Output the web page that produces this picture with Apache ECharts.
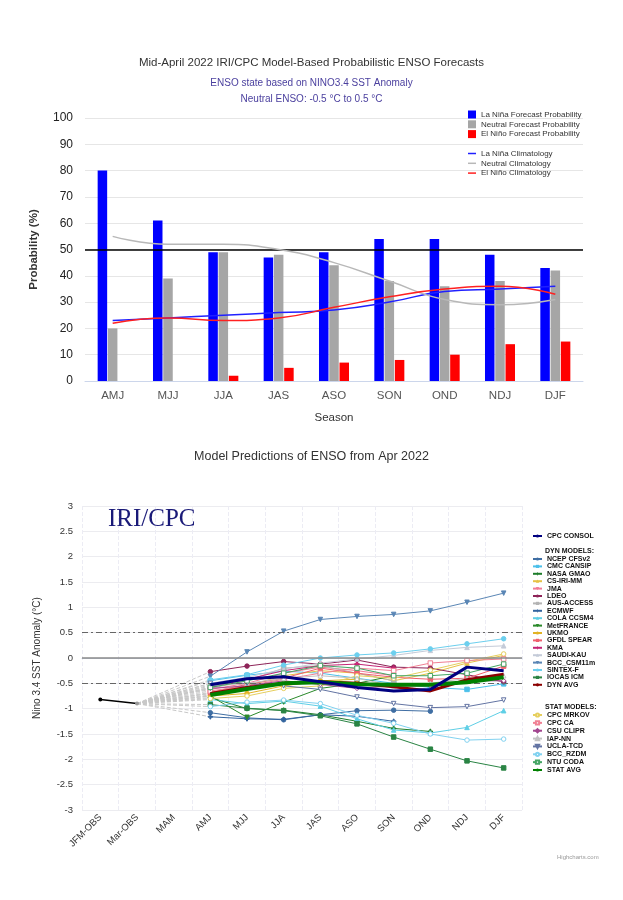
<!DOCTYPE html>
<html><head><meta charset="utf-8">
<script src="https://cdn.jsdelivr.net/npm/echarts/dist/echarts.min.js"></script>
<style>html,body{margin:0;padding:0;background:#fff}#c{width:623px;height:900px}</style>
</head><body><div id="c"></div>
<script>
// ---------- top chart data ----------
const seasons = ['AMJ','MJJ','JJA','JAS','ASO','SON','OND','NDJ','DJF'];
const laNinaProb  = [80,61,49,47,49,54,54,48,43];
const neutralProb = [20,39,49,48,44,38,36,38,42];
const elNinoProb  = [0,0,2,5,7,8,10,14,15];
const laNinaClim  = [23,24,25,26,27,30,34,35,36];
const neutralClim = [55,52,52,50,45,38,31,29,31];
const elNinoClim  = [22,24,23,24,28,32,35,36,33];

// ---------- bottom chart data ----------
const plumeCats = ['JFM-OBS','Mar-OBS','MAM','AMJ','MJJ','JJA','JAS','ASO','SON','OND','NDJ','DJF'];
const obsValues = [-0.82,-0.90];
const cpcConsol = [-0.53,-0.41,-0.37,-0.47,-0.58,-0.65,-0.62,-0.18,-0.25];
const ncepCfsv2 = [-1.08,-1.18,-1.22,-1.12,-1.04,-1.03,-1.05,null,null];
const cmcCansip = [-0.45,-0.34,-0.26,-0.30,-0.40,-0.50,-0.58,-0.62,-0.51];
const nasaGmao  = [-0.78,-1.00,-1.03,-1.12,-1.25,-1.39,-1.45,null,null];
const csIriMm   = [-0.70,-0.55,-0.35,-0.25,-0.30,-0.45,-0.30,-0.10,0.05];
const jma       = [-0.62,-0.50,-0.30,-0.18,-0.25,-0.35,null,null,null];
const ldeo      = [-0.27,-0.16,-0.07,-0.12,-0.04,-0.18,-0.20,-0.33,-0.47];
const ausAccess = [-0.60,-0.45,-0.20,-0.15,-0.30,-0.45,null,null,null];
const ecmwf     = [-1.16,-1.20,-1.21,-1.12,-1.15,-1.25,null,null,null];
const colaCcsm4 = [-0.82,-0.90,-0.85,-0.95,-1.20,-1.42,-1.48,-1.37,-1.04];
const metFrance = [-0.75,-1.17,-0.87,-0.60,-0.50,-0.35,null,null,null];
const ukmo      = [-0.75,-0.70,-0.55,-0.45,-0.42,null,null,null,null];
const gfdlSpear = [-0.68,-0.52,-0.40,-0.20,-0.30,-0.38,-0.42,-0.40,-0.16];
const kma       = [-0.58,-0.42,-0.25,-0.15,-0.12,-0.20,null,null,null];
const saudiKau  = [-0.50,-0.38,-0.22,-0.10,-0.02,0.05,0.15,0.21,0.24];
const bccCsm11m = [-0.36,0.12,0.53,0.76,0.82,0.86,0.93,1.10,1.28];
const sintexF   = [-0.43,-0.33,-0.14,0.00,0.06,0.10,0.18,0.28,0.38];
const iocasIcm  = [-0.92,-0.99,-1.04,-1.14,-1.30,-1.56,-1.80,-2.03,-2.17];
const dynAvg    = [-0.70,-0.58,-0.50,-0.47,-0.50,-0.57,-0.65,-0.43,-0.32];
const cpcMrkov  = [-0.80,-0.75,-0.60,-0.55,-0.35,-0.40,-0.24,-0.07,0.08];
const cpcCa     = [-0.65,-0.55,-0.42,-0.30,-0.20,-0.25,-0.10,-0.05,-0.02];
const csuClipr  = [-0.60,-0.55,-0.45,-0.52,-0.60,-0.55,-0.55,-0.45,-0.45];
const iapNn     = [-0.55,-0.50,-0.40,-0.35,-0.40,-0.55,-0.50,-0.40,-0.35];
const uclaTcd   = [-0.50,-0.50,-0.55,-0.62,-0.77,-0.90,-0.98,-0.96,-0.83];
const bccRzdm   = [-0.96,-0.87,-0.83,-0.90,-1.13,-1.29,-1.50,-1.62,-1.60];
const ntuCoda   = [-0.58,-0.45,-0.30,-0.15,-0.20,-0.35,-0.35,-0.30,-0.12];
const statAvg   = [-0.73,-0.61,-0.50,-0.48,-0.52,-0.53,-0.53,-0.48,-0.38];

// ---------- styling (kept apart from data) ----------
const DOWN = 'path://M0,0L10,0L5,10Z';
const PLUS = 'path://M4,0H6V4H10V6H6V10H4V6H0V4H4Z';
const dynModels = [
  ['NCEP CFSv2', ncepCfsv2, '#3f6ea3', 'circle', false],
  ['CMC CANSIP', cmcCansip, '#4cc0ea', 'rect', false],
  ['NASA GMAO', nasaGmao, '#1d7d2a', PLUS, false],
  ['CS-IRI-MM', csIriMm, '#e6c245', 'triangle', false],
  ['JMA', jma, '#f27c98', DOWN, false],
  ['LDEO', ldeo, '#8e2458', 'circle', false],
  ['AUS-ACCESS', ausAccess, '#b4b4b4', 'rect', false],
  ['ECMWF', ecmwf, '#33649f', PLUS, false],
  ['COLA CCSM4', colaCcsm4, '#5fcfe6', 'triangle', false],
  ['MetFRANCE', metFrance, '#2b8a2b', DOWN, false],
  ['UKMO', ukmo, '#e2b325', 'circle', false],
  ['GFDL SPEAR', gfdlSpear, '#f0606e', 'rect', false],
  ['KMA', kma, '#c42474', PLUS, false],
  ['SAUDI-KAU', saudiKau, '#c4cbd8', 'triangle', false],
  ['BCC_CSM11m', bccCsm11m, '#5a86b5', DOWN, false],
  ['SINTEX-F', sintexF, '#6ccfee', 'circle', false],
  ['IOCAS ICM', iocasIcm, '#2a8444', 'rect', false]
];
const statModels = [
  ['CPC MRKOV', cpcMrkov, '#e6cf5e', 'circle', true],
  ['CPC CA', cpcCa, '#f08194', 'rect', true],
  ['CSU CLIPR', csuClipr, '#a2468f', 'diamond', true],
  ['IAP-NN', iapNn, '#c2c2c2', 'triangle', true],
  ['UCLA-TCD', uclaTcd, '#6374a3', DOWN, true],
  ['BCC_RZDM', bccRzdm, '#82d2f0', 'circle', true],
  ['NTU CODA', ntuCoda, '#45a564', 'rect', true]
];

const chart = echarts.init(document.getElementById('c'), null, {renderer:'canvas'});
const FONT = 'Liberation Sans';
const pad = arr => [null, null, null].concat(arr);

const series = [];
// top bars
const barCommon = {type:'bar', xAxisIndex:0, yAxisIndex:0, barWidth:9.5, barGap:'8%'};
series.push(Object.assign({}, barCommon, {name:'La Niña Forecast Probability', data:laNinaProb, itemStyle:{color:'#0000ff'},
  markLine:{silent:true, symbol:'none', label:{show:false}, lineStyle:{color:'#000', width:1.5, type:'solid'}, data:[{yAxis:50}]}}));
series.push(Object.assign({}, barCommon, {name:'Neutral Forecast Probability', data:neutralProb, itemStyle:{color:'#a6a6a6'}}));
series.push(Object.assign({}, barCommon, {name:'El Niño Forecast Probability', data:elNinoProb, itemStyle:{color:'#ff0000'}}));
const climCommon = {type:'line', xAxisIndex:0, yAxisIndex:0, smooth:true, symbol:'none', z:5};
series.push(Object.assign({}, climCommon, {name:'La Niña Climatology', data:laNinaClim, itemStyle:{color:'#2020ff'}, lineStyle:{color:'#2020ff', width:1.5}}));
series.push(Object.assign({}, climCommon, {name:'Neutral Climatology', data:neutralClim, itemStyle:{color:'#b8b8b8'}, lineStyle:{color:'#b8b8b8', width:1.5}}));
series.push(Object.assign({}, climCommon, {name:'El Niño Climatology', data:elNinoClim, itemStyle:{color:'#ff2020'}, lineStyle:{color:'#ff2020', width:1.5}}));

// bottom: observations + reference lines
series.push({type:'line', xAxisIndex:1, yAxisIndex:1, name:'OBS', z:6,
  data:[{value:obsValues[0], itemStyle:{color:'#000'}}, {value:obsValues[1], itemStyle:{color:'#999'}}],
  symbol:'circle', symbolSize:4, lineStyle:{color:'#000', width:1.5}, itemStyle:{color:'#000'},
  markLine:{silent:true, symbol:'none', label:{show:false}, data:[
    {yAxis:0, lineStyle:{color:'#8a8a8a', width:1.5, type:'solid'}},
    {yAxis:0.5, lineStyle:{color:'#666', width:1, type:[6,3,2,3]}},
    {yAxis:-0.5, lineStyle:{color:'#666', width:1, type:[6,3,2,3]}}
  ]}});

const allModels = [['CPC CONSOL', cpcConsol], ...dynModels, ['DYN AVG', dynAvg], ...statModels, ['STAT AVG', statAvg]];
// dashed connectors from last observation to first forecast
allModels.forEach(m => {
  const d = new Array(plumeCats.length).fill(null);
  d[1] = obsValues[1]; d[3] = m[1][0];
  series.push({type:'line', xAxisIndex:1, yAxisIndex:1, silent:true, connectNulls:true, symbol:'none', z:1,
    data:d, lineStyle:{color:'#c8c8c8', width:1, type:[4,2]}});
});
function modelSeries(m, z){
  const [name, vals, color, sym, hollow] = m;
  return {type:'line', name, xAxisIndex:1, yAxisIndex:1, data:pad(vals), z:z||3,
    symbol:sym, symbolSize:4.5, showAllSymbol:true,
    lineStyle:{color, width:1},
    itemStyle: hollow ? {color:'#fff', borderColor:color, borderWidth:1} : {color, borderColor:color}};
}
dynModels.forEach(m => series.push(modelSeries(m)));
statModels.forEach(m => series.push(modelSeries(m)));
series.push({type:'line', name:'CPC CONSOL', xAxisIndex:1, yAxisIndex:1, data:pad(cpcConsol), symbol:'none', z:9, lineStyle:{color:'#000080', width:3}, itemStyle:{color:'#000080'}});
series.push({type:'line', name:'DYN AVG', xAxisIndex:1, yAxisIndex:1, data:pad(dynAvg), symbol:'none', z:8, lineStyle:{color:'#8b0000', width:3}, itemStyle:{color:'#8b0000'}});
series.push({type:'line', name:'STAT AVG', xAxisIndex:1, yAxisIndex:1, data:pad(statAvg), symbol:'none', z:8, lineStyle:{color:'#008000', width:4}, itemStyle:{color:'#008000'}});

const legTxt = {fontSize:7, fontWeight:'bold', color:'#111', fontFamily:FONT, lineHeight:7};
const option = {
  animation:false,
  backgroundColor:'#fff',
  textStyle:{fontFamily:FONT},
  title:[
    {text:'Mid-April 2022 IRI/CPC Model-Based Probabilistic ENSO Forecasts', left:'center', top:57, padding:0,
     textStyle:{fontSize:11.5, fontWeight:'normal', color:'#333', fontFamily:FONT}},
    {text:'ENSO state based on NINO3.4 SST Anomaly', left:'center', top:78, padding:0,
     textStyle:{fontSize:10, fontWeight:'normal', color:'#4a3f9e', fontFamily:FONT}},
    {text:'Neutral ENSO: -0.5 °C to 0.5 °C', left:'center', top:94, padding:0,
     textStyle:{fontSize:10, fontWeight:'normal', color:'#4a3f9e', fontFamily:FONT}},
    {text:'Model Predictions of ENSO from Apr 2022', left:'center', top:450, padding:0,
     textStyle:{fontSize:12.5, fontWeight:'normal', color:'#333', fontFamily:FONT}},
    {text:'IRI/CPC', left:108, top:507, padding:0,
     textStyle:{fontSize:25, fontWeight:'normal', color:'#1a1a78', fontFamily:'Liberation Serif'}}
  ],
  legend:[
    {left:468, top:110.5, orient:'vertical', padding:0, icon:'rect', itemWidth:8, itemHeight:8, itemGap:1.8, itemTextGap:5, selectedMode:false,
     textStyle:{fontSize:8, color:'#333', fontFamily:FONT, lineHeight:8},
     data:['La Niña Forecast Probability','Neutral Forecast Probability','El Niño Forecast Probability']},
    {left:468, top:149.5, orient:'vertical', padding:0, icon:'rect', itemWidth:8, itemHeight:1.5, itemGap:1.8, itemTextGap:5, selectedMode:false,
     textStyle:{fontSize:8, color:'#333', fontFamily:FONT, lineHeight:8},
     data:['La Niña Climatology','Neutral Climatology','El Niño Climatology']},
    {left:532, top:532.5, orient:'vertical', padding:0, itemWidth:9, itemHeight:4, itemGap:0.4, itemTextGap:4, selectedMode:false,
     textStyle:legTxt, data:['CPC CONSOL']},
    {left:532, top:555.5, orient:'vertical', padding:0, itemWidth:9, itemHeight:4, itemGap:0.4, itemTextGap:4, selectedMode:false,
     textStyle:legTxt, data:dynModels.map(m=>m[0]).concat(['DYN AVG'])},
    {left:532, top:711.5, orient:'vertical', padding:0, itemWidth:9, itemHeight:4, itemGap:0.86, itemTextGap:4, selectedMode:false,
     textStyle:legTxt, data:statModels.map(m=>m[0]).concat(['STAT AVG'])}
  ],
  graphic:[
    {type:'text', left:545, top:547.5, style:{text:'DYN MODELS:', fontSize:7, fontWeight:'bold', fill:'#111', fontFamily:FONT}},
    {type:'text', left:545, top:703.5, style:{text:'STAT MODELS:', fontSize:7, fontWeight:'bold', fill:'#111', fontFamily:FONT}},
    {type:'text', left:557, top:854, style:{text:'Highcharts.com', fontSize:6, fill:'#999', fontFamily:FONT}}
  ],
  grid:[
    {left:85, top:118, width:498, height:263},
    {left:82, top:506, width:440, height:304}
  ],
  xAxis:[
    {type:'category', gridIndex:0, data:seasons, name:'Season', nameLocation:'middle', nameGap:31,
     nameTextStyle:{fontSize:11.5, color:'#333'},
     axisLine:{lineStyle:{color:'#ccd6eb'}}, axisTick:{show:false},
     axisLabel:{fontSize:11.5, color:'#555', margin:9}},
    {type:'category', gridIndex:1, data:plumeCats,
     axisLine:{lineStyle:{color:'#ccd6eb'}}, axisTick:{show:false},
     splitLine:{show:true, lineStyle:{color:'#ececf4', type:'dashed'}},
     axisLabel:{fontSize:9.5, color:'#333', rotate:45, margin:6, interval:0}}
  ],
  yAxis:[
    {type:'value', gridIndex:0, min:0, max:100, interval:10, name:'Probability (%)', nameLocation:'middle', nameGap:45,
     nameTextStyle:{fontSize:11.5, color:'#333', fontWeight:'bold'},
     axisLine:{show:false}, axisTick:{show:false},
     splitLine:{lineStyle:{color:'#e6e6e6'}},
     axisLabel:{fontSize:12, color:'#222', margin:12}},
    {type:'value', gridIndex:1, min:-3, max:3, interval:0.5, name:'Nino 3.4 SST Anomaly (°C)', nameLocation:'middle', nameGap:40,
     nameTextStyle:{fontSize:10, color:'#333'},
     axisLine:{show:false}, axisTick:{show:false},
     splitLine:{lineStyle:{color:'#ececf0'}},
     axisLabel:{fontSize:9.5, color:'#333', margin:9}}
  ],
  series
};
chart.setOption(option);
</script></body></html>
